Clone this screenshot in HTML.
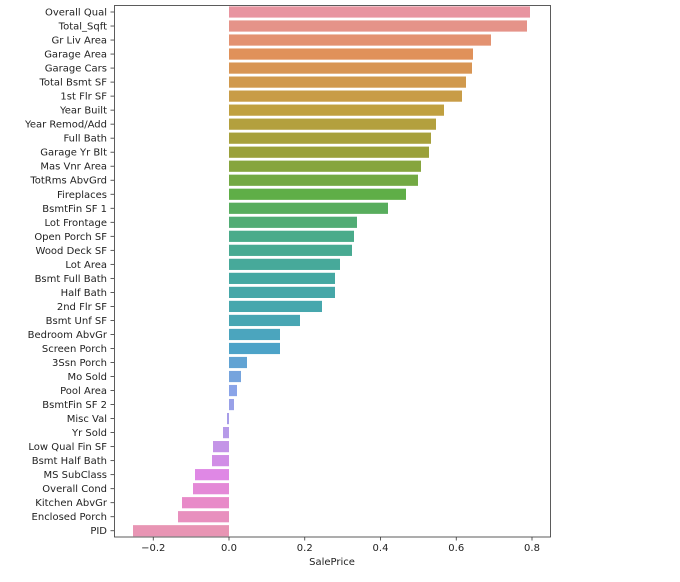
<!DOCTYPE html>
<html><head><meta charset="utf-8"><style>body{margin:0;background:#fff}svg{display:block}text{font-family:"DejaVu Sans","Liberation Sans",sans-serif;font-size:10px;fill:#222}</style></head>
<body><svg id="s" width="680" height="582" xmlns="http://www.w3.org/2000/svg"></svg>
<script>
var L=["Overall Qual","Total_Sqft","Gr Liv Area","Garage Area","Garage Cars","Total Bsmt SF","1st Flr SF","Year Built","Year Remod/Add","Full Bath","Garage Yr Blt","Mas Vnr Area","TotRms AbvGrd","Fireplaces","BsmtFin SF 1","Lot Frontage","Open Porch SF","Wood Deck SF","Lot Area","Bsmt Full Bath","Half Bath","2nd Flr SF","Bsmt Unf SF","Bedroom AbvGr","Screen Porch","3Ssn Porch","Mo Sold","Pool Area","BsmtFin SF 2","Misc Val","Yr Sold","Low Qual Fin SF","Bsmt Half Bath","MS SubClass","Overall Cond","Kitchen AbvGr","Enclosed Porch","PID"];
var E=[530,527,491,473,472,466,462,444,436,431,429,421,418,406,388,357,354,352,340,335,335,322,300,280,280,247,241,237,234,227,223,213,212,195,193,182,178,133];
var K=[[0,[232,148,160]],[3,[224,145,90]],[7,[192,160,64]],[10,[154,160,58]],[13,[95,174,71]],[16,[74,171,138]],[19,[69,168,162]],[22,[72,166,179]],[24,[77,163,200]],[27,[138,164,232]],[30,[182,154,232]],[33,[223,136,229]],[35,[232,138,200]],[37,[232,149,180]]];
function col(i){for(var k=0;k<K.length-1;k++){if(i<=K[k+1][0]){var t=(i-K[k][0])/(K[k+1][0]-K[k][0]),a=K[k][1],b=K[k+1][1];return "rgb("+a.map(function(v,j){return Math.round(v+(b[j]-v)*t)}).join(",")+")";}}}
var h="",z=229;
for(var i=0;i<38;i++){var c=12+i*14.02,x0=Math.min(z,E[i]),w=Math.abs(E[i]-z);
h+='<rect x="'+x0+'" y="'+(c-5.6)+'" width="'+w+'" height="11.2" fill="'+col(i)+'"/>';
h+='<line x1="110.5" x2="114" y1="'+c+'" y2="'+c+'" stroke="#333" stroke-width="0.8"/>';
h+='<text x="107" y="'+(c+3.5)+'" text-anchor="end">'+L[i]+'</text>';}
var T=[-0.2,0,0.2,0.4,0.6,0.8];
T.forEach(function(v){var x=z+v*378.75;h+='<line x1="'+x+'" x2="'+x+'" y1="537" y2="540.5" stroke="#333" stroke-width="0.8"/><text x="'+x+'" y="551" text-anchor="middle">'+(v<0?'\u2212':'')+Math.abs(v).toFixed(1)+'</text>';});
h+='<rect x="114.5" y="5.5" width="436" height="531.5" fill="none" stroke="#333" stroke-width="0.8"/>';
h+='<text x="332" y="565" text-anchor="middle">SalePrice</text>';
document.getElementById("s").innerHTML=h;
</script></body></html>
